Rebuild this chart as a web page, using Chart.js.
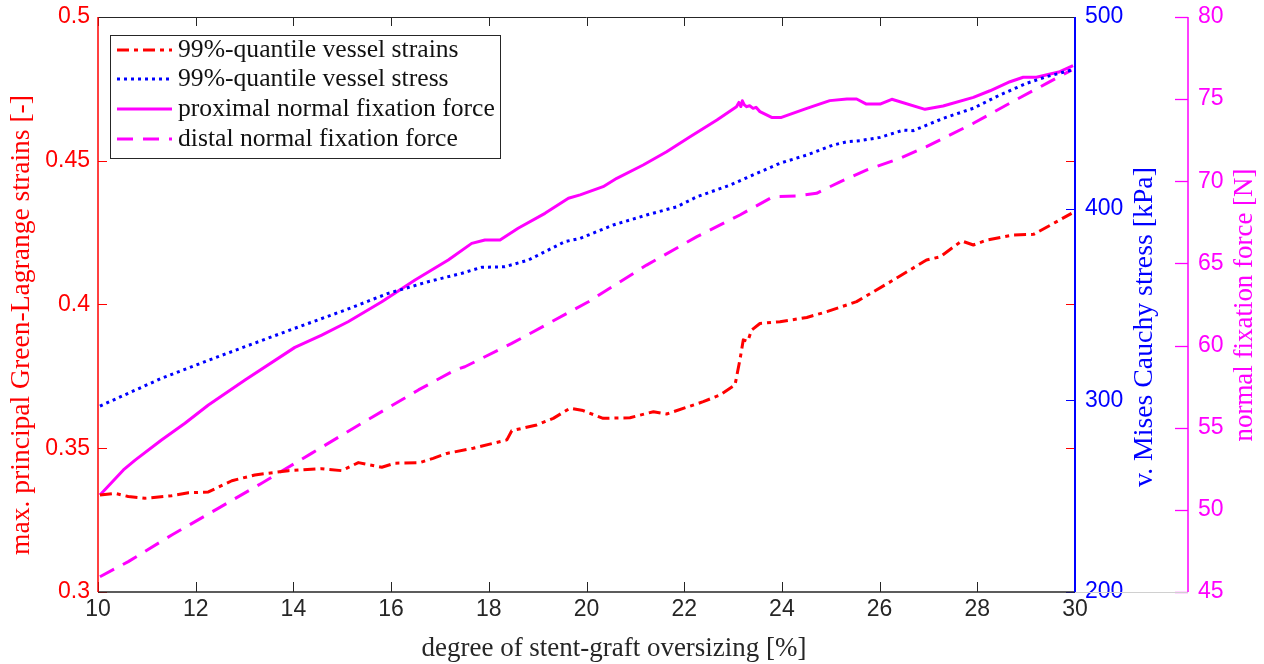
<!DOCTYPE html>
<html><head><meta charset="utf-8">
<script src="https://cdn.jsdelivr.net/npm/chart.js@4"></script>
<style>html,body{margin:0;padding:0;background:#fff;}canvas{display:block}</style>
</head><body>
<canvas id="c" width="1264" height="664"></canvas>
<script>
// ---- data ----
const xTickLabels = [10,12,14,16,18,20,22,24,26,28,30];
const seriesNames = ["99%-quantile vessel strains","99%-quantile vessel stress","proximal normal fixation force","distal normal fixation force"];

const strainX = [10.04,10.35,10.62,10.96,11.51,11.85,12.26,12.74,13.21,13.90,14.58,14.99,15.33,15.81,16.08,16.59,16.86,17.14,17.68,18.37,18.47,18.98,19.32,19.66,19.93,20.34,20.89,21.37,21.64,22.39,22.73,23.04,23.14,23.21,23.30,23.38,23.55,23.96,24.51,24.92,25.53,26.28,26.96,27.24,27.68,27.92,28.19,28.74,29.15,29.56,29.93];
const strainY = [0.3337,0.3343,0.3332,0.3326,0.3335,0.3345,0.3348,0.3387,0.3407,0.3422,0.3429,0.3422,0.3450,0.3434,0.3448,0.3450,0.3465,0.3482,0.3500,0.3529,0.3561,0.3581,0.3604,0.3639,0.3631,0.3604,0.3606,0.3627,0.3619,0.3662,0.3685,0.3720,0.3807,0.3877,0.3872,0.3911,0.3934,0.3940,0.3955,0.3975,0.4010,0.4085,0.4155,0.4166,0.4221,0.4207,0.4224,0.4242,0.4244,0.4282,0.4317];

const stressX = [10.04,10.62,11.30,12.19,13.01,14.03,15.06,15.94,16.76,17.45,17.85,18.33,18.81,19.56,19.87,20.55,21.23,21.85,22.26,22.94,23.41,23.96,24.51,25.05,25.33,25.60,26.01,26.49,26.69,27.30,27.92,28.46,29.01,29.42,29.93];
const stressY = [297.0,303.7,311.5,320.2,328.0,337.6,347.1,355.8,361.9,366.3,369.4,369.7,373.2,382.8,384.5,391.5,396.7,401.0,406.2,412.3,417.6,423.7,428.0,433.2,434.9,435.5,437.2,441.0,440.7,447.1,452.4,459.3,465.4,468.9,472.3];

const proxX = [10.04,10.52,10.76,11.30,11.78,12.26,13.01,14.03,14.58,15.12,15.81,16.49,17.17,17.65,17.92,18.23,18.60,19.15,19.63,19.87,20.34,20.62,21.16,21.64,22.12,22.67,23.07,23.12,23.16,23.19,23.23,23.28,23.34,23.41,23.47,23.55,23.79,23.99,24.51,24.98,25.33,25.53,25.73,26.01,26.25,26.93,27.30,27.92,28.26,28.67,28.94,29.21,29.69,29.96];
const proxY = [50.90,52.43,53.03,54.25,55.27,56.38,57.90,59.89,60.64,61.45,62.67,63.99,65.21,66.22,66.43,66.43,67.14,68.05,68.97,69.17,69.67,70.18,70.99,71.80,72.71,73.73,74.54,74.80,74.55,74.90,74.65,74.54,74.60,74.44,74.50,74.24,73.89,73.89,74.44,74.91,75.01,75.01,74.70,74.70,74.99,74.38,74.58,75.11,75.51,76.06,76.33,76.33,76.67,77.04];

const distX = [10.04,10.62,11.51,12.46,13.35,14.37,15.40,16.56,17.31,17.51,18.47,20.04,21.23,22.26,23.14,23.82,24.30,24.71,25.19,25.74,26.42,26.96,27.92,28.81,29.42,29.93];
const distY = [45.93,46.85,48.47,50.09,51.62,53.44,55.27,57.30,58.51,58.71,60.13,62.67,64.90,66.63,67.95,69.06,69.10,69.27,69.97,70.69,71.40,72.11,73.53,74.99,75.96,76.77];

const zip = (xs, ys) => xs.map((x, i) => ({x, y: ys[i]}));

const RED = '#ff0000', BLUE = '#0000ff', MAG = '#ff00ff', INK = '#262626';
const SERIF = '"Liberation Serif", "DejaVu Serif", serif';
const SANS = '"Liberation Sans", Arial, sans-serif';

const datasets = [
  {label: seriesNames[0], data: zip(strainX, strainY), yAxisID: 'y', borderColor: RED, borderWidth: 3, borderDash: [12,5,4,5]},
  {label: seriesNames[1], data: zip(stressX, stressY), yAxisID: 'y1', borderColor: BLUE, borderWidth: 3, borderDash: [3,4]},
  {label: seriesNames[2], data: zip(proxX, proxY), yAxisID: 'y2', borderColor: MAG, borderWidth: 3, borderDash: []},
  {label: seriesNames[3], data: zip(distX, distY), yAxisID: 'y2', borderColor: MAG, borderWidth: 3, borderDash: [16,10]}
].map(d => Object.assign(d, {pointRadius: 0, tension: 0, fill: false, borderJoinStyle: 'round'}));

function fitSize(ctx, text, target, family) {
  ctx.font = '20px ' + family;
  return 20 * target / ctx.measureText(text).width;
}

const deco = {
  id: 'deco',
  afterDraw(chart) {
    const {ctx, chartArea: a, scales} = chart;
    const sx = scales.x, sy = scales.y, s1 = scales.y1, s2 = scales.y2;
    ctx.save();
    ctx.setLineDash([]);
    const line = (x1, y1, x2, y2, c, w) => {
      ctx.beginPath(); ctx.strokeStyle = c; ctx.lineWidth = w; ctx.lineCap = 'butt';
      ctx.moveTo(x1, y1); ctx.lineTo(x2, y2); ctx.stroke();
    };
    sx.ticks.forEach(t => {
      const p = Math.round(sx.getPixelForValue(t.value)) + 0.5;
      line(p, a.top, p, a.top + 9, INK, 1);
      line(p, a.bottom, p, a.bottom - 10, INK, 1);
    });
    sy.ticks.forEach(t => {
      const p = Math.round(sy.getPixelForValue(t.value)) + 0.5;
      line(a.left, p, a.left + 9, p, RED, 1);
      line(a.right, p, a.right - 9, p, RED, 1);
    });
    s1.ticks.forEach(t => {
      const p = Math.round(s1.getPixelForValue(t.value)) + 0.5;
      line(a.right, p, a.right - 9, p, BLUE, 1);
    });
    s2.ticks.forEach(t => {
      const p = Math.round(s2.getPixelForValue(t.value)) + 0.5;
      line(s2.left, p, s2.left - 13, p, MAG, 1.3);
    });
    line(a.right, a.bottom + 0.5, s2.left, a.bottom + 0.5, '#d0d0d0', 1);
    line(a.left, a.top + 0.5, a.right, a.top + 0.5, INK, 1);
    line(a.left, a.bottom, a.right, a.bottom, INK, 1.5);
    line(a.left, a.top, a.left, a.bottom, RED, 1.5);
    line(a.right, a.top, a.right, a.bottom, BLUE, 2);
    line(s2.left, a.top, s2.left, a.bottom, MAG, 1.5);

    // axis titles
    const title = (text, cx, cy, target, color, rot) => {
      const fs = fitSize(ctx, text, target, SERIF);
      ctx.save();
      ctx.font = fs.toFixed(2) + 'px ' + SERIF;
      ctx.fillStyle = color; ctx.textAlign = 'center'; ctx.textBaseline = 'middle';
      ctx.translate(cx, cy);
      if (rot) ctx.rotate(-Math.PI / 2);
      ctx.fillText(text, 0, 0);
      ctx.restore();
    };
    title('degree of stent-graft oversizing [%]', 614, 649, 385, INK, false);
    title('max. principal Green-Lagrange strains [-]', 22, 325, 460, RED, true);
    title('v. Mises Cauchy stress [kPa]', 1145, 327, 320, BLUE, true);
    title('normal fixation force [N]', 1245, 305, 273, MAG, true);

    // legend
    const bx = 110.5, by = 35.5, bw = 390, bh = 123;
    ctx.fillStyle = '#fff'; ctx.fillRect(bx, by, bw, bh);
    ctx.strokeStyle = INK; ctx.lineWidth = 1; ctx.strokeRect(bx, by, bw, bh);
    const fs = fitSize(ctx, seriesNames[2], 317, SERIF);
    ctx.font = fs.toFixed(2) + 'px ' + SERIF;
    const rows = [50, 79, 109, 139];
    chart.data.datasets.forEach((d, i) => {
      const y = rows[i];
      ctx.save();
      ctx.beginPath();
      ctx.strokeStyle = d.borderColor; ctx.lineWidth = d.borderWidth;
      ctx.setLineDash(d.borderDash || []);
      ctx.moveTo(117, y); ctx.lineTo(172, y); ctx.stroke();
      ctx.restore();
      ctx.fillStyle = '#111'; ctx.textAlign = 'left'; ctx.textBaseline = 'middle';
      ctx.fillText(d.label, 178, y);
    });
    ctx.restore();
  }
};

const tickFont = {family: SANS, size: 23};

new Chart(document.getElementById('c'), {
  type: 'line',
  data: {datasets},
  options: {
    responsive: false,
    animation: false,
    layout: {padding: {top: 17, left: 0, right: 0, bottom: 0}},
    plugins: {legend: {display: false}, tooltip: {enabled: false}},
    scales: {
      x: {
        type: 'linear', min: 10, max: 30,
        afterBuildTicks: s => { s.ticks = xTickLabels.map(v => ({value: v})); },
        ticks: {font: tickFont, color: INK, padding: 4, maxRotation: 0, autoSkip: false},
        grid: {display: false, drawTicks: false}, border: {display: false},
        afterFit: s => { s.height = 72; }
      },
      y: {
        position: 'left', min: 0.3, max: 0.5,
        ticks: {stepSize: 0.05, font: tickFont, color: RED, padding: 1, callback: v => String(+v.toFixed(2))},
        grid: {display: false, drawTicks: true, tickLength: 7}, border: {display: false},
        afterFit: s => { s.width = 98; }
      },
      y1: {
        position: 'right', min: 200, max: 500,
        ticks: {stepSize: 100, font: tickFont, color: BLUE, padding: 1},
        grid: {display: false, drawTicks: true, tickLength: 9}, border: {display: false},
        afterFit: s => { s.width = 113; }
      },
      y2: {
        position: 'right', min: 45, max: 80,
        ticks: {stepSize: 5, font: tickFont, color: MAG, padding: 1},
        grid: {display: false, drawTicks: true, tickLength: 9}, border: {display: false},
        afterFit: s => { s.width = 76; }
      }
    }
  },
  plugins: [deco]
});
</script>
</body></html>
